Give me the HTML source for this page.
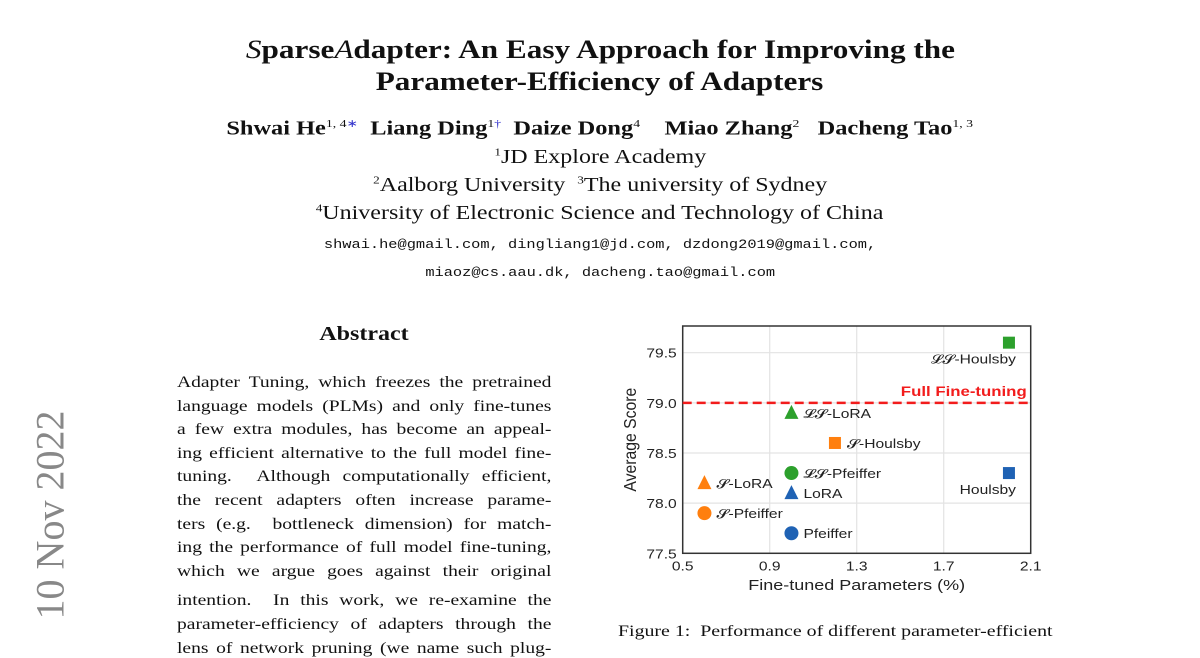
<!DOCTYPE html>
<html><head><meta charset="utf-8"><style>
body{margin:0;width:1200px;height:648px;overflow:hidden;background:#fff;position:relative;font-family:"Liberation Serif",serif;color:#111}
.a{position:absolute;white-space:nowrap}
.c{left:0;width:1200px;text-align:center}
.c>span{display:inline-block;transform:scaleX(1.2)}
.ln{position:absolute;left:177px;width:312px;font-size:16.3px;text-align:justify;text-align-last:justify;line-height:20px;white-space:nowrap;transform:scaleX(1.2);transform-origin:0 0}
.mono{font-family:"Liberation Mono",monospace;font-size:13px}
sup{font-size:11px}
</style></head><body>
<div class="a" style="left:50px;top:515px;transform:translate(-50%,-50%) rotate(-90deg);font-size:40px;color:#888;font-family:'Liberation Serif',serif">10 Nov 2022</div>
<div class="a c" style="top:34px;font-size:26px;font-weight:bold;line-height:32px"><span><i style="font-weight:normal">S</i>parse<i style="font-weight:normal">A</i>dapter: An Easy Approach for Improving the</span><br><span>Parameter-Efficiency of Adapters</span></div>
<div class="a c" style="top:117px;font-size:19.5px;font-weight:bold"><span style="transform:scaleX(1.25)">Shwai He<sup style="font-weight:normal">1, 4<span style="color:#33c">∗</span></sup>&nbsp; Liang Ding<sup style="font-weight:normal">1<span style="color:#33c">†</span></sup>&nbsp; Daize Dong<sup style="font-weight:normal">4</sup>&nbsp;&nbsp;&nbsp; Miao Zhang<sup style="font-weight:normal">2</sup>&nbsp;&nbsp; Dacheng Tao<sup style="font-weight:normal">1, 3</sup></span></div>
<div class="a c" style="top:146px;font-size:20px"><span><sup>1</sup>JD Explore Academy</span></div>
<div class="a c" style="top:174px;font-size:20px"><span><sup>2</sup>Aalborg University&nbsp; <sup>3</sup>The university of Sydney</span></div>
<div class="a c" style="top:202px;font-size:20px"><span><sup>4</sup>University of Electronic Science and Technology of China</span></div>
<div class="a c mono" style="top:237px"><span style="transform:scaleX(1.18)">shwai.he@gmail.com, dingliang1@jd.com, dzdong2019@gmail.com,</span></div>
<div class="a c mono" style="top:265px"><span style="transform:scaleX(1.18)">miaoz@cs.aau.dk, dacheng.tao@gmail.com</span></div>
<div class="a" style="left:364px;top:323px;transform:translateX(-50%) scaleX(1.2);font-size:20px;font-weight:bold">Abstract</div>
<div>
<div class="ln" style="top:372px">Adapter Tuning, which freezes the pretrained</div>
<div class="ln" style="top:396px">language models (PLMs) and only fine-tunes</div>
<div class="ln" style="top:419px">a few extra modules, has become an appeal-</div>
<div class="ln" style="top:443px">ing efficient alternative to the full model fine-</div>
<div class="ln" style="top:466px">tuning. &nbsp;Although computationally efficient,</div>
<div class="ln" style="top:490px">the recent adapters often increase parame-</div>
<div class="ln" style="top:514px">ters (e.g. &nbsp;bottleneck dimension) for match-</div>
<div class="ln" style="top:537px">ing the performance of full model fine-tuning,</div>
<div class="ln" style="top:561px">which we argue goes against their original</div>
<div class="ln" style="top:590px">intention. &nbsp;In this work, we re-examine the</div>
<div class="ln" style="top:614px">parameter-efficiency of adapters through the</div>
<div class="ln" style="top:638px">lens of network pruning (we name such plug-</div>
</div>
<div class="a" style="left:618px;top:621px;font-size:16.3px;transform:scaleX(1.22);transform-origin:0 0">Figure 1: &nbsp;Performance of different parameter-efficient</div>
<svg id="chart" width="1200" height="648" style="position:absolute;left:0;top:0" font-family="Liberation Sans, sans-serif"></svg>
<script>
const names=["𝓛𝓢-Houlsby","Houlsby","𝓛𝓢-LoRA","𝓢-Houlsby","𝓛𝓢-Pfeiffer","LoRA","Pfeiffer","𝓢-LoRA","𝓢-Pfeiffer"];
const xs=[2.0,2.0,1.0,1.2,1.0,1.0,1.0,0.6,0.6];
const ys=[79.6,78.3,78.9,78.6,78.3,78.1,77.7,78.2,77.9];
const shapes=["s","s","t","s","c","t","c","t","c"];
const groups=["g","b","g","o","g","b","b","o","o"];
const xTicks=[0.5,0.9,1.3,1.7,2.1];
const yTicks=[77.5,78.0,78.5,79.0,79.5];
const fullFT=79.0;
const col={g:"#2ca02c",b:"#1f62b4",o:"#ff7f0e"};
const L=682.7,R=1030.7,T=326,B=553.3,x0=0.5,x1=2.1,y0=77.5,y1=79.5,yB=352.7;
const sx=v=>L+(v-x0)/(x1-x0)*(R-L);
const sy=v=>B-(v-y0)/(y1-y0)*(B-yB);
const svg=document.getElementById('chart');const NS="http://www.w3.org/2000/svg";
function mk(t,a,p){const e=document.createElementNS(NS,t);for(const k in a)e.setAttribute(k,a[k]);(p||svg).appendChild(e);return e;}
function txt(x,y,s,a,rot){const e=mk('text',Object.assign({x:0,y:0,transform:`translate(${x},${y}) ${rot?'rotate(-90) ':''}scale(1.2,1)`},a));e.textContent=s;return e;}
xTicks.forEach(v=>{const g=mk('line',{x1:sx(v),x2:sx(v),y1:T,y2:B,stroke:'#e3e3e3','stroke-width':1.2});

const t=txt(sx(v),B+17,v.toFixed(1),{'text-anchor':'middle','font-size':13,fill:'#222'});
});
yTicks.forEach(v=>{const g=mk('line',{x1:L,x2:R,y1:sy(v),y2:sy(v),stroke:'#e3e3e3','stroke-width':1.2});

const t=txt(L-6,sy(v)+5,v.toFixed(1),{'text-anchor':'end','font-size':13,fill:'#222'});
});
const fr=mk('rect',{x:L,y:T,width:R-L,height:B-T,fill:'none',stroke:'#333','stroke-width':1.5});

const fl=mk('line',{x1:L,x2:R,y1:sy(fullFT),y2:sy(fullFT),stroke:'#f21c1c','stroke-width':2.5,'stroke-dasharray':'9,5'});

const ft=txt(R-4,sy(fullFT)-7,'Full Fine-tuning',{'text-anchor':'end','font-size':14,'font-weight':'bold',fill:'#f21c1c'});

names.forEach((n,i)=>{const cx=sx(xs[i]),cy=sy(ys[i]),c=col[groups[i]];let m;
if(shapes[i]=='s')m=mk('rect',{x:cx-6,y:cy-6,width:12,height:12,fill:c});
else if(shapes[i]=='c')m=mk('circle',{cx:cx,cy:cy,r:7,fill:c});
else m=mk('polygon',{points:`${cx-7},${cy+6} ${cx+7},${cy+6} ${cx},${cy-8}`,fill:c});

let tx=cx+12,ty=cy+5,an='start';
if(xs[i]>=1.9){tx=cx+7;ty=cy+21;an='end';}
const t=txt(tx,ty,n,{'text-anchor':an,'font-size':13,fill:'#222'});
});
const xl=txt((L+R)/2,590,'Fine-tuned Parameters (%)',{'text-anchor':'middle','font-size':15,fill:'#222'});

const yl=mk('text',{x:0,y:0,'text-anchor':'middle','font-size':15,fill:'#222',transform:`translate(636,${(T+B)/2}) rotate(-90) scale(1.05,1.2)`});yl.textContent='Average Score';

</script>
</body></html>
